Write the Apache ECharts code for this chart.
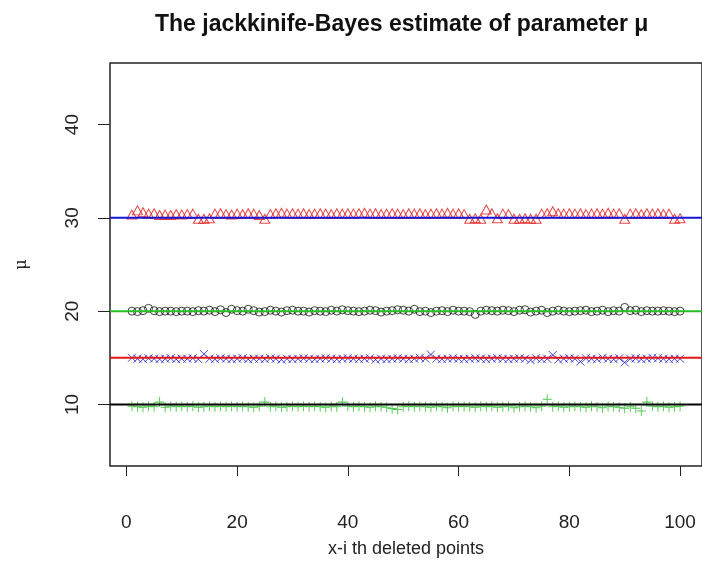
<!DOCTYPE html>
<html>
<head>
<meta charset="utf-8">
<script src="https://cdn.jsdelivr.net/npm/echarts@6/dist/echarts.min.js"></script>
<style>
  html, body { margin: 0; padding: 0; background: #fff; }
  #chart { width: 702px; height: 563px; }
</style>
</head>
<body>
<div id="chart"></div>
<script>
// x = index of the deleted point (1..100)
var xTicks = [0, 20, 40, 60, 80, 100];
var yTicks = [10, 20, 30, 40];

// triangles (red) around 30
var triVals = [
  30.35, 30.8, 30.6, 30.45, 30.5, 30.3, 30.35, 30.3, 30.4, 30.35,
  30.4, 30.45, 29.9, 29.9, 29.95, 30.45, 30.5, 30.4, 30.35, 30.45,
  30.4, 30.5, 30.45, 30.3, 29.9, 30.4, 30.5, 30.55, 30.45, 30.5,
  30.45, 30.5, 30.4, 30.45, 30.5, 30.45, 30.4, 30.5, 30.45, 30.5,
  30.45, 30.5, 30.55, 30.45, 30.5, 30.4, 30.45, 30.5, 30.45, 30.4,
  30.5, 30.45, 30.5, 30.4, 30.45, 30.5, 30.45, 30.55, 30.45, 30.5,
  30.4, 29.9, 29.95, 29.9, 30.9, 30.5, 29.95, 30.45, 30.4, 29.9,
  29.9, 29.95, 29.9, 29.9, 30.45, 30.5, 30.7, 30.5, 30.45, 30.5,
  30.45, 30.5, 30.4, 30.45, 30.5, 30.45, 30.55, 30.45, 30.5, 29.9,
  30.45, 30.5, 30.4, 30.5, 30.45, 30.5, 30.4, 30.45, 29.9, 29.95
];
// circles (black) around 20
var circVals = [
  20.0, 19.95, 20.05, 20.3, 20.05, 19.95, 20.0, 20.0, 19.95, 20.0,
  20.0, 19.95, 20.05, 20.0, 20.1, 19.95, 20.15, 19.85, 20.2, 20.05,
  20.0, 20.2, 20.05, 19.9, 19.95, 20.1, 20.0, 19.9, 20.05, 20.1,
  20.0, 20.0, 19.9, 20.05, 20.0, 19.95, 20.1, 20.0, 20.15, 20.05,
  20.0, 19.95, 20.0, 20.1, 20.05, 19.9, 20.0, 20.05, 20.15, 20.1,
  20.0, 20.2, 19.95, 20.0, 19.85, 20.0, 20.05, 19.95, 20.1, 20.0,
  20.0, 19.95, 19.65, 20.0, 20.1, 20.05, 20.0, 20.1, 20.05, 19.95,
  20.1, 20.15, 19.9, 20.0, 20.1, 19.85, 20.0, 20.1, 20.0, 19.95,
  20.0, 20.05, 20.1, 19.95, 20.0, 20.1, 19.95, 20.05, 20.0, 20.4,
  20.05, 20.1, 19.95, 20.05, 20.0, 20.0, 20.05, 20.0, 19.95, 20.0
];
// crosses (blue) around 15
var crossVals = [
  15.0, 14.9, 14.85, 14.95, 14.9, 14.85, 14.9, 14.95, 14.85, 14.9,
  14.9, 14.95, 14.85, 15.4, 14.9, 14.85, 14.95, 14.9, 14.85, 14.9,
  14.95, 14.85, 14.9, 14.9, 14.85, 14.95, 14.9, 14.8, 14.9, 14.85,
  14.9, 14.95, 14.9, 14.85, 14.9, 14.95, 14.9, 14.85, 14.9, 14.95,
  14.9, 14.85, 14.9, 14.95, 14.8, 14.9, 14.85, 14.9, 14.95, 14.9,
  14.85, 14.9, 15.0, 14.9, 15.35, 14.9, 14.85, 14.9, 14.95, 14.9,
  14.85, 14.9, 14.95, 14.9, 14.85, 14.9, 14.95, 14.9, 14.85, 14.9,
  14.95, 14.9, 14.75, 14.95, 14.85, 14.9, 15.3, 14.8, 14.9, 14.95,
  14.9, 14.6, 14.95, 14.9, 14.85, 15.0, 14.9, 14.85, 14.95, 14.5,
  14.9, 14.95, 14.85, 14.9, 15.0, 14.95, 14.9, 14.85, 14.9, 14.9
];
// pluses (green) around 10
var plusVals = [
  9.8, 9.75, 9.7, 9.8, 9.75, 10.25, 9.7, 9.8, 9.75, 9.8,
  9.75, 9.8, 9.7, 9.75, 9.8, 9.75, 9.8, 9.75, 9.8, 9.75,
  9.8, 9.75, 9.7, 9.8, 10.25, 9.75, 9.8, 9.7, 9.75, 9.8,
  9.75, 9.8, 9.75, 9.8, 9.75, 9.7, 9.8, 9.75, 10.25, 9.8,
  9.75, 9.8, 9.75, 9.7, 9.8, 9.75, 9.7, 9.55, 9.45, 9.75,
  9.8, 9.75, 9.8, 9.75, 9.7, 9.8, 9.75, 9.65, 9.8, 9.75,
  9.8, 9.75, 9.7, 9.8, 9.75, 9.8, 9.7, 9.75, 9.8, 9.65,
  9.75, 9.8, 9.75, 9.65, 9.8, 10.55, 9.75, 9.8, 9.7, 9.75,
  9.8, 9.75, 9.7, 9.8, 9.75, 9.65, 9.8, 9.75, 9.7, 9.6,
  9.75, 9.6, 9.3, 10.25, 9.8, 9.75, 9.8, 9.7, 9.75, 9.8
];

// horizontal reference lines (abline)
var refVals = [30, 20, 15, 10];
var refColors = ['#1414d8', '#22c022', '#e81414', '#000000'];

var xMin = -2.96, xMax = 103.96;
var yMin = 3.4, yMax = 46.6;

function pairs(vals) {
  return vals.map(function (v, i) { return [i + 1, v]; });
}

function markSeries(vals, symbol, size, color, width) {
  return {
    type: 'scatter',
    data: pairs(vals),
    symbol: symbol,
    symbolSize: size,
    silent: true,
    z: 2,
    itemStyle: { color: 'none', borderColor: color, borderWidth: width || 1 }
  };
}

var series = [
  markSeries(triVals, 'path://M5,0L10,9L0,9Z', [10, 9], '#e01818'),
  markSeries(circVals, 'circle', 8, '#111111'),
  markSeries(crossVals, 'path://M0,0L10,10M10,0L0,10', 8, '#1a1ad0'),
  markSeries(plusVals, 'path://M5,0L5,10M0,5L10,5', [9, 10], '#25b825')
];

refVals.forEach(function (v, i) {
  series.push({
    type: 'line',
    data: [[xMin, v], [xMax, v]],
    symbol: 'none',
    silent: true,
    z: 5,
    lineStyle: { color: refColors[i], width: 2 }
  });
});

var chart = echarts.init(document.getElementById('chart'));
chart.setOption({
  animation: false,
  backgroundColor: '#fff',
  title: {
    text: 'The jackkinife-Bayes estimate of parameter \u03bc',
    left: 150,
    top: 8,
    textStyle: { fontFamily: 'Liberation Sans', fontSize: 23, fontWeight: 'bold', color: '#111' }
  },
  grid: {
    left: 110, right: -2, top: 63, bottom: 89,
    show: true, borderColor: '#222', borderWidth: 1.5
  },
  xAxis: {
    type: 'value',
    min: xMin, max: xMax,
    name: 'x-i th deleted points',
    nameLocation: 'middle',
    nameGap: 74,
    nameTextStyle: { fontFamily: 'Liberation Sans', fontSize: 18, color: '#222' },
    axisLine: { show: false, onZero: false },
    splitLine: { show: false },
    axisTick: { show: true, length: 10, customValues: xTicks, lineStyle: { color: '#222', width: 1 } },
    axisLabel: { customValues: xTicks, margin: 47, fontFamily: 'Liberation Sans', fontSize: 19, color: '#222' }
  },
  yAxis: {
    type: 'value',
    min: yMin, max: yMax,
    name: '\u03bc',
    nameLocation: 'middle',
    nameRotate: 90,
    nameGap: 80,
    nameTextStyle: { fontFamily: 'DejaVu Serif', fontSize: 16, color: '#222' },
    axisLine: { show: false, onZero: false },
    splitLine: { show: false },
    axisTick: { show: true, length: 12, customValues: yTicks, lineStyle: { color: '#222', width: 1 } },
    axisLabel: { customValues: yTicks, rotate: 90, margin: 28, fontFamily: 'Liberation Sans', fontSize: 19, color: '#222' }
  },
  series: series
});
</script>
</body>
</html>
